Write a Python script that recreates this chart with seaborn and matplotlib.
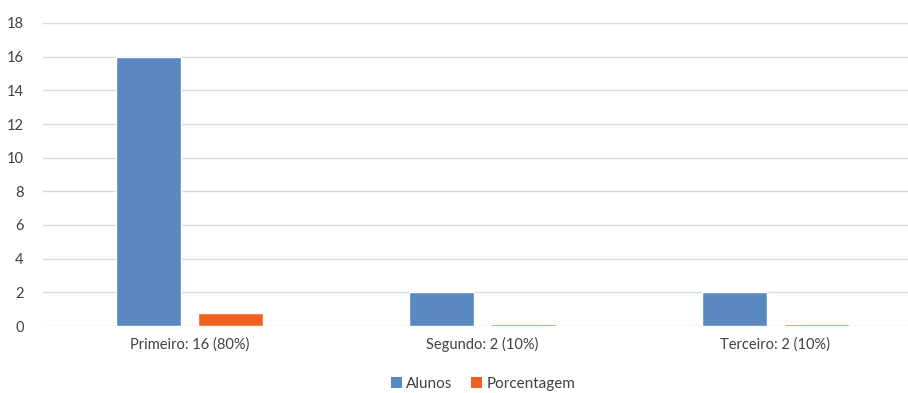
import matplotlib
matplotlib.use("Agg")
import matplotlib.pyplot as plt
import seaborn as sns
import pandas as pd
from matplotlib.patches import Patch

categories = ["Primeiro: 16 (80%)", "Segundo: 2 (10%)", "Terceiro: 2 (10%)"]
alunos = [16, 2, 2]
porcentagem = [0.8, 0.1, 0.1]
series_names = ["Alunos", "Porcentagem"]
colors = ["#5a88c1", "#f0601e"]

df = pd.DataFrame({
    "cat": categories * 2,
    "val": alunos + porcentagem,
    "serie": [series_names[0]] * 3 + [series_names[1]] * 3,
})

sns.set_theme(style="white")
plt.rcParams["font.family"] = ["Lato", "DejaVu Sans"]

fig = plt.figure(figsize=(9.08, 3.93), dpi=100)
ax = fig.add_axes([43 / 908, 67 / 393, 879 / 908, 303 / 393])

sns.barplot(data=df, x="cat", y="val", hue="serie", palette=colors,
            width=0.56, gap=0.207, ax=ax, legend=False, saturation=1)

ax.set_xlim(-0.5, 2.5)
ax.set_ylim(0, 18)
ax.set_yticks(range(0, 19, 2))
ax.yaxis.grid(True, color="#d9d9d9", linewidth=1)
ax.set_axisbelow(True)
for s in ax.spines.values():
    s.set_visible(False)
ax.set_xlabel("")
ax.set_ylabel("")
ax.tick_params(axis="y", length=0, pad=14, labelsize=10.5, labelcolor="#404040")
ax.tick_params(axis="x", length=0, pad=8, labelsize=10.5, labelcolor="#404040")
for lbl in ax.get_yticklabels():
    lbl.set_horizontalalignment("right")

handles = [Patch(facecolor=c, edgecolor="none") for c in colors]
fig.legend(handles, series_names, loc="center", bbox_to_anchor=(483 / 908, 1 - 384 / 393),
           ncol=2, frameon=False, fontsize=11, handlelength=0.7, handleheight=0.7,
           handletextpad=0.3, columnspacing=1.2, labelcolor="#404040")

fig.savefig("out.png", dpi=100)
